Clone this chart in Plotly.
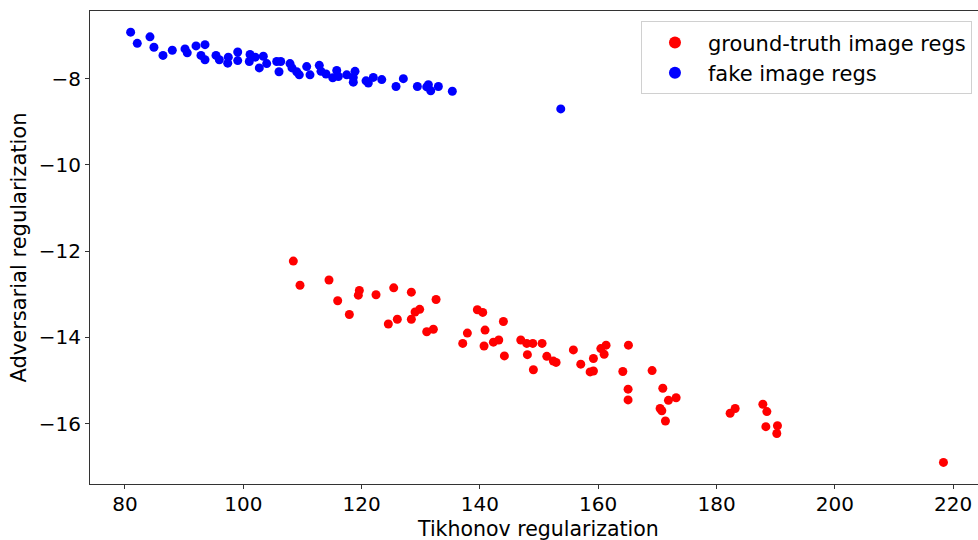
import plotly.graph_objects as go

# ground-truth image regs (red)
gt_x = [108.46, 109.59, 114.49, 115.96, 117.93, 119.62, 119.45, 122.44, 125.43, 124.52,
        126.04, 128.41, 128.41, 129.04, 129.82, 132.59, 131.01, 132.13, 139.57, 140.48,
        143.97, 137.88, 137.10, 140.87, 140.70, 142.28, 143.19, 144.14, 146.91, 147.92,
        148.94, 150.51, 148.03, 149.04, 151.31, 152.42, 152.88, 155.80, 157.05, 158.63,
        159.19, 159.19, 160.44, 161.33, 161.00, 165.11, 164.16, 165.05, 165.05, 169.11,
        170.92, 171.87, 173.17, 170.46, 170.75, 171.36, 182.30, 183.15, 187.83, 188.51,
        188.34, 190.30, 190.19, 218.36]
gt_y = [-12.23, -12.79, -12.67, -13.15, -13.47, -12.91, -13.02, -13.01, -12.85, -13.69,
        -13.58, -12.95, -13.58, -13.41, -13.35, -13.12, -13.87, -13.81, -13.36, -13.42,
        -13.63, -13.90, -14.14, -13.83, -14.20, -14.11, -14.06, -14.43, -14.06, -14.14,
        -14.14, -14.14, -14.40, -14.75, -14.44, -14.55, -14.58, -14.29, -14.62, -14.80,
        -14.78, -14.49, -14.26, -14.18, -14.39, -14.18, -14.79, -15.20, -15.45, -14.77,
        -15.18, -15.46, -15.40, -15.65, -15.70, -15.94, -15.76, -15.65, -15.55, -15.72,
        -16.07, -16.05, -16.23, -16.90]

# fake image regs (blue)
fake_x = [80.96, 82.08, 84.23, 84.90, 86.43, 88.00, 90.15, 90.53, 92.01, 93.53,
          92.85, 93.53, 95.39, 95.95, 97.47, 97.37, 99.06, 99.06, 101.14, 101.02,
          102.03, 102.71, 103.39, 103.96, 105.65, 106.33, 106.04, 107.90, 108.24, 109.03,
          109.47, 110.72, 111.28, 112.85, 113.14, 113.99, 115.12, 115.80, 116.07, 117.49,
          118.89, 118.60, 118.60, 120.75, 121.14, 121.98, 123.41, 125.82, 127.06, 129.43,
          131.01, 131.29, 131.69, 132.98, 135.34, 153.67]
fake_y = [-6.92, -7.18, -7.03, -7.27, -7.46, -7.34, -7.31, -7.40, -7.24, -7.21,
          -7.46, -7.56, -7.46, -7.56, -7.50, -7.64, -7.38, -7.58, -7.44, -7.60,
          -7.50, -7.75, -7.48, -7.65, -7.60, -7.60, -7.84, -7.65, -7.75, -7.84,
          -7.91, -7.72, -7.91, -7.69, -7.83, -7.89, -7.98, -7.81, -7.95, -7.91,
          -7.83, -7.97, -8.08, -8.05, -8.10, -7.97, -8.02, -8.18, -8.00, -8.18,
          -8.19, -8.14, -8.28, -8.18, -8.29, -8.70]

x_ticks = [80, 100, 120, 140, 160, 180, 200, 220]
y_ticks = [-16, -14, -12, -10, -8]

FONT = "DejaVu Sans"

fig = go.Figure()
fig.add_trace(go.Scatter(x=gt_x, y=gt_y, mode="markers", name="ground-truth image regs",
                         marker=dict(color="#ff0000", size=9, line=dict(width=0))))
fig.add_trace(go.Scatter(x=fake_x, y=fake_y, mode="markers", name="fake image regs",
                         marker=dict(color="#0000ff", size=9, line=dict(width=0))))

axis_common = dict(showgrid=False, zeroline=False, showline=True, linecolor="#333",
                   linewidth=1, ticks="outside", ticklen=4, tickwidth=1, tickcolor="#333",
                   automargin=False,
                   tickfont=dict(family=FONT, size=20, color="black"))

fig.update_layout(
    width=978, height=540,
    margin=dict(l=90, r=0, t=11, b=56),
    paper_bgcolor="white", plot_bgcolor="white",
    font=dict(family=FONT, size=20, color="black"),
    xaxis=dict(range=[74.09, 224.2], tickvals=x_ticks, mirror=True,
               ticklabelstandoff=-2, **axis_common),
    yaxis=dict(range=[-17.40, -6.43], tickvals=y_ticks,
               title=dict(text="Adversarial regularization", standoff=6,
                          font=dict(family=FONT, size=21)),
               **axis_common),
    legend=dict(x=0.9932, y=0.978, xanchor="right", yanchor="top",
                bgcolor="white", bordercolor="#d0d0d0", borderwidth=1,
                font=dict(family=FONT, size=21), itemsizing="constant",
                itemwidth=56, tracegroupgap=0),
    showlegend=True,
    annotations=[dict(text="Tikhonov regularization", xref="paper", yref="paper",
                      x=(537.5 - 90) / 888, y=-0.1226, xanchor="center", yanchor="bottom",
                      showarrow=False, borderpad=0,
                      font=dict(family=FONT, size=20.5, color="black"))],
)

fig.write_html("out.html", config={"displayModeBar": False},
               post_script="document.body.style.margin='0';document.body.style.padding='0';")
